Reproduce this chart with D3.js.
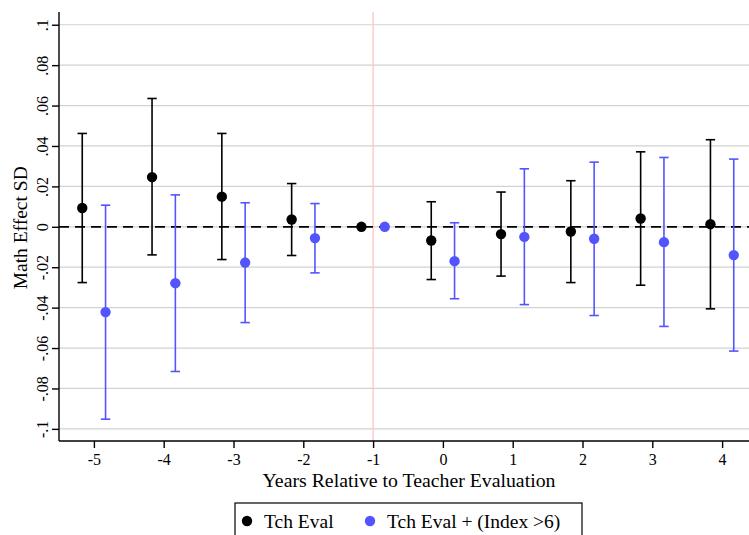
<!DOCTYPE html>
<html>
<head>
<meta charset="utf-8">
<script src="https://cdn.jsdelivr.net/npm/d3@7"></script>
<style>
  body { margin: 0; background: #fff; }
  svg { display: block; font-family: "Liberation Serif", "Times New Roman", serif; }
  .grid line { stroke: #cfd3d3; stroke-width: 1.2; }
  .axis path, .axis line { stroke: #000; stroke-width: 1.4; }
</style>
</head>
<body>
<div id="chart-container"></div>
<script>
// data
const years = [-5, -4, -3, -2, -1, 0, 1, 2, 3, 4];
const evalEst = [0.0093, 0.0246, 0.0149, 0.0036, 0, -0.0068, -0.0036, -0.0023, 0.0041, 0.0013];
const evalLo  = [-0.0276, -0.0139, -0.0162, -0.0142, 0, -0.0261, -0.0244, -0.0276, -0.0289, -0.0406];
const evalHi  = [0.0462, 0.0635, 0.0462, 0.0214, 0, 0.0124, 0.0172, 0.0228, 0.0371, 0.0431];
const idxEst = [-0.0422, -0.0279, -0.0177, -0.0056, 0, -0.0170, -0.0050, -0.0059, -0.0076, -0.0140];
const idxLo  = [-0.0952, -0.0716, -0.0474, -0.0228, 0, -0.0356, -0.0385, -0.0439, -0.0493, -0.0615];
const idxHi  = [0.0107, 0.0158, 0.0119, 0.0115, 0, 0.0020, 0.0287, 0.0320, 0.0343, 0.0335];
const yTicks = [-0.1, -0.08, -0.06, -0.04, -0.02, 0, 0.02, 0.04, 0.06, 0.08, 0.1];
const seriesNames = ["Tch Eval", "Tch Eval + (Index >6)"];

const svgWidth = 749,
    svgHeight = 535,
    plotLeft = 59, plotTop = 12, plotBottom = 441, plotRight = 757;

const colors = ["#000000", "#5454ff"];
const offset = 0.167;

var svg = d3.select("#chart-container").append("svg")
    .attr("width", svgWidth)
    .attr("height", svgHeight);

let x = d3.scaleLinear().domain([-5.5, 4.5]).range([plotLeft, plotRight]),
    y = d3.scaleLinear().domain([-0.106, 0.1063]).range([plotBottom, plotTop]);

// gridlines
svg.append("g").attr("class", "grid")
    .selectAll("line")
    .data(yTicks)
    .join("line")
    .attr("x1", plotLeft).attr("x2", svgWidth)
    .attr("y1", d => y(d)).attr("y2", d => y(d));

// reference lines
svg.append("line")
    .attr("x1", x(-1)).attr("x2", x(-1))
    .attr("y1", plotTop).attr("y2", plotBottom)
    .attr("stroke", "#ffc8c8").attr("stroke-width", 1.4);

svg.append("line")
    .attr("x1", plotLeft).attr("x2", svgWidth)
    .attr("y1", y(0)).attr("y2", y(0))
    .attr("stroke", "#000").attr("stroke-width", 1.8)
    .attr("stroke-dasharray", "10,6");

// axes (stata style: plain hyphen, no leading zero)
let fmt = d => d === 0 ? "0" : d3.format(".2~f")(d).replace("\u2212", "-").replace("0.", ".");

let yAxis = svg.append("g")
    .attr("class", "axis")
    .attr("transform", `translate(${plotLeft},0)`)
    .call(d3.axisLeft(y).tickValues(yTicks).tickSize(7).tickPadding(0).tickSizeOuter(0).tickFormat(fmt));
yAxis.select(".domain").attr("d", `M0,${plotTop}V${plotBottom}`);
yAxis.selectAll(".tick text")
    .attr("x", null).attr("dy", null)
    .attr("transform", "translate(-13,0) rotate(-90)")
    .attr("text-anchor", "middle")
    .attr("dy", "0.1em")
    .attr("fill", "#000")
    .style("font-size", "16px")
    .style("font-family", "Liberation Serif");

let xAxis = svg.append("g")
    .attr("class", "axis")
    .attr("transform", `translate(0,${plotBottom})`)
    .call(d3.axisBottom(x).tickValues(years).tickSize(7).tickPadding(6).tickSizeOuter(0)
        .tickFormat(d => String(d)));
xAxis.select(".domain").attr("d", `M${plotLeft},0H${svgWidth}`);
xAxis.selectAll(".tick text")
    .attr("fill", "#000")
    .style("font-size", "16px")
    .style("font-family", "Liberation Serif");

// axis titles
svg.append("text")
    .attr("x", 409).attr("y", 487)
    .attr("text-anchor", "middle")
    .style("font-size", "19.8px")
    .text("Years Relative to Teacher Evaluation");

svg.append("text")
    .attr("transform", `translate(27, ${y(0) + 1}) rotate(-90)`)
    .attr("text-anchor", "middle")
    .style("font-size", "19.5px")
    .text("Math Effect SD");

// error bars and points
let series = [
    { est: evalEst, lo: evalLo, hi: evalHi, dx: -offset, color: colors[0] },
    { est: idxEst, lo: idxLo, hi: idxHi, dx: offset, color: colors[1] }
];

series.forEach(function (s) {
    let rows = years.map((yr, i) => ({ yr: yr, est: s.est[i], lo: s.lo[i], hi: s.hi[i] }));
    let g = svg.append("g");
    let bars = rows.filter(d => d.hi !== d.lo);
    g.selectAll("line.v").data(bars).join("line")
        .attr("class", "v")
        .attr("x1", d => x(d.yr + s.dx)).attr("x2", d => x(d.yr + s.dx))
        .attr("y1", d => y(d.lo)).attr("y2", d => y(d.hi))
        .attr("stroke", s.color).attr("stroke-width", 1.6);
    ["lo", "hi"].forEach(function (k) {
        g.selectAll("line.cap-" + k).data(bars).join("line")
            .attr("class", "cap-" + k)
            .attr("x1", d => x(d.yr + s.dx) - 4.7).attr("x2", d => x(d.yr + s.dx) + 4.7)
            .attr("y1", d => y(d[k])).attr("y2", d => y(d[k]))
            .attr("stroke", s.color).attr("stroke-width", 1.6);
    });
    g.selectAll("circle").data(rows).join("circle")
        .attr("cx", d => x(d.yr + s.dx))
        .attr("cy", d => y(d.est))
        .attr("r", 5.2)
        .attr("fill", s.color);
});

// legend
let legend = svg.append("g");
legend.append("rect")
    .attr("x", 235).attr("y", 503)
    .attr("width", 347).attr("height", 40)
    .attr("fill", "#fff").attr("stroke", "#000").attr("stroke-width", 1.2);

let legX = [247, 370];
seriesNames.forEach(function (name, i) {
    legend.append("circle")
        .attr("cx", legX[i]).attr("cy", 521)
        .attr("r", 5.2).attr("fill", colors[i]);
    legend.append("text")
        .attr("x", legX[i] + 17).attr("y", 528)
        .style("font-size", "19.5px")
        .text(name);
});
</script>
</body>
</html>
